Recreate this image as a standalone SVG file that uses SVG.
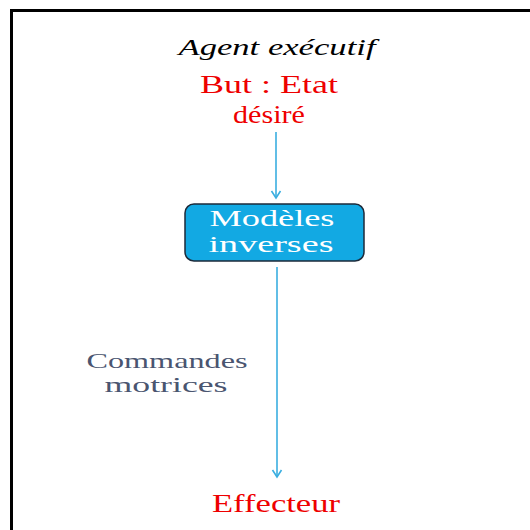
<svg xmlns="http://www.w3.org/2000/svg" width="530" height="530" viewBox="0 0 530 530">
<defs>
<style>
.t{font-family:"Liberation Serif","Times New Roman",serif;text-anchor:middle}
.red{fill:#ee0000;font-size:26px}
.conn{stroke:#3aaee0;stroke-width:1.6;fill:none}
</style>
<marker id="ah" markerWidth="12" markerHeight="12" refX="10" refY="6" orient="auto" markerUnits="userSpaceOnUse" viewBox="0 0 12 12">
<path d="M3,1.5 L10,6 L3,10.5" fill="none" stroke="#3aaee0" stroke-width="1.6"/>
</marker>
</defs>
<rect width="530" height="530" fill="#fff"/>
<path d="M11.5,545 V10.5 H545" fill="none" stroke="#000" stroke-width="3"/>
<g id="title"><text class="t" x="277" y="55" font-size="23" font-style="italic" textLength="197" lengthAdjust="spacingAndGlyphs">Agent exécutif</text></g>
<g id="but"><text class="t red" x="269" y="93" textLength="138" lengthAdjust="spacingAndGlyphs">But : Etat</text><text class="t red" x="269" y="123" font-size="27" textLength="72" lengthAdjust="spacingAndGlyphs">désiré</text></g>
<g id="modeles">
<rect x="185" y="204" width="179" height="57" rx="9" fill="#12a9e3" stroke="#1c2a3a" stroke-width="1.5"/>
<text class="t" x="272" y="226" font-size="24" fill="#fff" textLength="125" lengthAdjust="spacingAndGlyphs">Modèles</text>
<text class="t" x="271" y="252" font-size="24" fill="#fff" textLength="125" lengthAdjust="spacingAndGlyphs">inverses</text>
</g>
<g id="commandes"><text class="t" x="167" y="368" font-size="22" fill="#4a5570" textLength="161" lengthAdjust="spacingAndGlyphs">Commandes</text><text class="t" x="166" y="392" font-size="22" fill="#4a5570" textLength="123" lengthAdjust="spacingAndGlyphs">motrices</text></g>
<g id="effecteur"><text class="t red" x="276" y="512" textLength="128" lengthAdjust="spacingAndGlyphs">Effecteur</text></g>
<g id="connectors">
<line class="conn" x1="276" y1="132" x2="276" y2="198" marker-end="url(#ah)"/>
<line class="conn" x1="277" y1="267" x2="277" y2="477" marker-end="url(#ah)"/>
</g>
</svg>
